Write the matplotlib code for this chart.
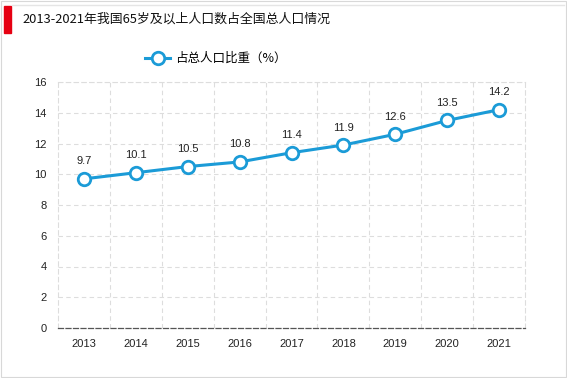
import matplotlib.pyplot as plt
from matplotlib.patches import Rectangle

plt.rcParams['font.family'] = ['Noto Sans CJK SC', 'DejaVu Sans']

# data
years = ['2013', '2014', '2015', '2016', '2017', '2018', '2019', '2020', '2021']
share = [9.7, 10.1, 10.5, 10.8, 11.4, 11.9, 12.6, 13.5, 14.2]
yticks = [0, 2, 4, 6, 8, 10, 12, 14, 16]

blue = '#1b9bd7'
num_font = ['Liberation Sans', 'DejaVu Sans']

fig = plt.figure(figsize=(5.67, 3.78), dpi=100)
ax = fig.add_axes([58 / 567, 1 - 328 / 378, 467 / 567, 246 / 378])

x = list(range(len(years)))
ax.plot(x, share, color=blue, lw=2.2, marker='o', ms=9,
        mfc='white', mec=blue, mew=2, label='占总人口比重（%）', zorder=3)
for xi, v in zip(x, share):
    ax.annotate(f'{v:g}', (xi, v), xytext=(0, 9), textcoords='offset points',
                ha='center', va='bottom', fontsize=8, color='#222222',
                family=num_font)

ax.set_xlim(-0.5, len(years) - 0.5)
ax.set_ylim(0, 16)
ax.set_yticks(yticks)
ax.set_xticks(x)
ax.set_xticklabels(years)
ax.tick_params(length=0, labelsize=8, colors='#222222', pad=8)
for lab in ax.get_xticklabels() + ax.get_yticklabels():
    lab.set_family(num_font)

# grid: horizontal at ticks, vertical at category boundaries
for y in yticks[1:]:
    ax.axhline(y, color='#dddddd', lw=0.8, ls=(0, (4, 3)), zorder=0)
for b in range(1, len(years)):
    ax.axvline(b - 0.5, color='#dddddd', lw=0.8, ls=(0, (4, 3)), zorder=0)
for side in ['left', 'right', 'top']:
    ax.spines[side].set_color('#dddddd')
    ax.spines[side].set_linestyle((0, (4, 3)))
    ax.spines[side].set_linewidth(0.8)
ax.spines['bottom'].set_color('#555555')
ax.spines['bottom'].set_linestyle((0, (4, 2)))
ax.spines['bottom'].set_linewidth(0.9)

leg = ax.legend(loc='lower left', bbox_to_anchor=(140 / 567, 1 - 70 / 378),
                bbox_transform=fig.transFigure, frameon=False, fontsize=9,
                handlelength=2.0, handletextpad=0.4, borderaxespad=0)

# title and frame
fig.patches.append(Rectangle((4 / 567, 1 - 33 / 378), 7 / 567, 27 / 378,
                             transform=fig.transFigure, color='#e60012'))
fig.text(22 / 567, 1 - 19 / 378, '2013-2021年我国65岁及以上人口数占全国总人口情况',
         fontsize=9.3, va='center', ha='left', color='#111111')
fig.add_artist(plt.Line2D([12 / 567, 564 / 567], [1 - 5 / 378] * 2,
                          transform=fig.transFigure, color='#e5e5e5', lw=1))
fig.patches.append(Rectangle((1 / 567, 1 / 378), 565 / 567, 376 / 378,
                             transform=fig.transFigure, fill=False,
                             ec='#d8d8d8', lw=0.8))

fig.savefig('out.png', dpi=100)
